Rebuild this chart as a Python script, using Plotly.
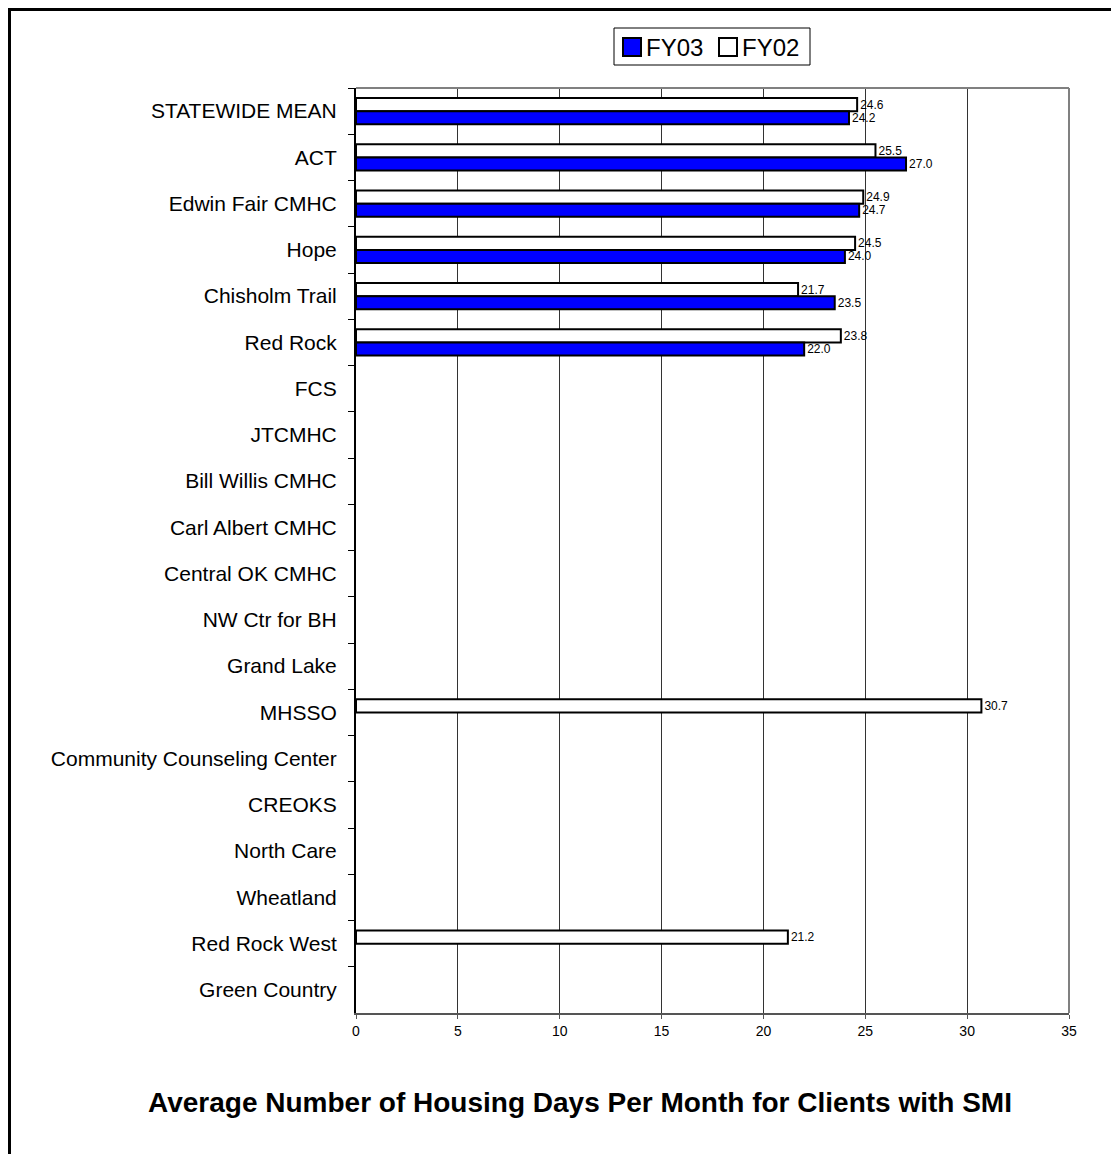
import plotly.graph_objects as go

categories = ["STATEWIDE MEAN", "ACT", "Edwin Fair CMHC", "Hope", "Chisholm Trail",
              "Red Rock", "FCS", "JTCMHC", "Bill Willis CMHC", "Carl Albert CMHC",
              "Central OK CMHC", "NW Ctr for BH", "Grand Lake", "MHSSO",
              "Community Counseling Center", "CREOKS", "North Care", "Wheatland",
              "Red Rock West", "Green Country"]
fy03 = [24.2, 27.0, 24.7, 24.0, 23.5, 22.0, None, None, None, None,
        None, None, None, None, None, None, None, None, None, None]
fy02 = [24.6, 25.5, 24.9, 24.5, 21.7, 23.8, None, None, None, None,
        None, None, None, 30.7, None, None, None, None, 21.2, None]
x_ticks = [0, 5, 10, 15, 20, 25, 30, 35]
series_names = ["FY03", "FY02"]
title = "Average Number of Housing Days Per Month for Clients with SMI"

FONT = "Liberation Sans, Arial, sans-serif"

def labels(vals):
    return [None if v is None else f"{v:.1f}" for v in vals]

fig = go.Figure()
fig.add_trace(go.Bar(
    name="FY02", y=categories, x=fy02, orientation="h",
    marker=dict(color="white", line=dict(color="black", width=2)),
    text=labels(fy02), textposition="outside", cliponaxis=False, constraintext="none",
    textfont=dict(size=12, color="black", family=FONT),
))
fig.add_trace(go.Bar(
    name="FY03", y=categories, x=fy03, orientation="h",
    marker=dict(color="#0000FF", line=dict(color="black", width=2)),
    text=labels(fy03), textposition="outside", cliponaxis=False, constraintext="none",
    textfont=dict(size=12, color="black", family=FONT),
))

# figure is drawn inside the page body (8px offset)
W, H = 1111, 1146
L, R, T, B = 348, 1061, 80, 1005
def px(x):
    return (x - L) / (R - L)
def py(y):
    return (B - y) / (B - T)

shapes = [
    # outer frame
    dict(type="line", xref="paper", yref="paper", x0=px(1.5), x1=px(1.5), y0=py(0), y1=py(1160),
         line=dict(color="black", width=3)),
    dict(type="line", xref="paper", yref="paper", x0=px(0), x1=px(1120), y0=py(1.5), y1=py(1.5),
         line=dict(color="black", width=3)),
    # plot border top & right
    dict(type="line", xref="paper", yref="paper", x0=0, x1=1, y0=1, y1=1,
         line=dict(color="#808080", width=2)),
    dict(type="line", xref="paper", yref="paper", x0=1, x1=1, y0=0, y1=1,
         line=dict(color="#808080", width=2)),
    # legend box
    dict(type="rect", xref="paper", yref="paper", x0=px(606), x1=px(802), y0=py(20), y1=py(57),
         line=dict(color="black", width=1), fillcolor="white"),
    # legend swatches
    dict(type="rect", xref="paper", yref="paper", x0=px(615), x1=px(633), y0=py(30), y1=py(48),
         line=dict(color="black", width=2), fillcolor="#0000FF"),
    dict(type="rect", xref="paper", yref="paper", x0=px(711), x1=px(729), y0=py(30), y1=py(48),
         line=dict(color="black", width=2), fillcolor="white"),
]

annotations = [
    dict(text="<b>" + title + "</b>", xref="paper", yref="paper", x=px(572), y=py(1094),
         xanchor="center", yanchor="middle", showarrow=False,
         font=dict(size=28, family=FONT, color="black")),
    dict(text=series_names[0], xref="paper", yref="paper", x=px(636), y=py(39),
         xanchor="left", yanchor="middle", showarrow=False,
         font=dict(size=24, family=FONT, color="black")),
    dict(text=series_names[1], xref="paper", yref="paper", x=px(732), y=py(39),
         xanchor="left", yanchor="middle", showarrow=False,
         font=dict(size=24, family=FONT, color="black")),
]

fig.update_layout(
    width=W, height=H,
    margin=dict(l=L, r=W - R, t=T, b=H - B, pad=0),
    paper_bgcolor="white", plot_bgcolor="white",
    barmode="group", bargap=0.43, bargroupgap=0,
    font=dict(family=FONT, color="black"),
    showlegend=False,
    shapes=shapes,
    annotations=annotations,
)

fig.update_xaxes(
    range=[0, 35], tickvals=x_ticks, ticktext=[str(v) for v in x_ticks],
    showgrid=True, gridcolor="#333333", gridwidth=1,
    showline=True, linecolor="#555555", linewidth=2,
    ticks="outside", ticklen=4, tickcolor="#555555",
    tickfont=dict(size=14, family=FONT), zeroline=False, fixedrange=True,
)
fig.update_yaxes(
    autorange="reversed", type="category",
    showline=True, linecolor="black", linewidth=2,
    ticks="outside", ticklen=6, tickson="boundaries", tickcolor="black",
    tickfont=dict(size=21, family=FONT), ticklabelstandoff=13,
    showgrid=False,
)

fig.write_html("out.html")
